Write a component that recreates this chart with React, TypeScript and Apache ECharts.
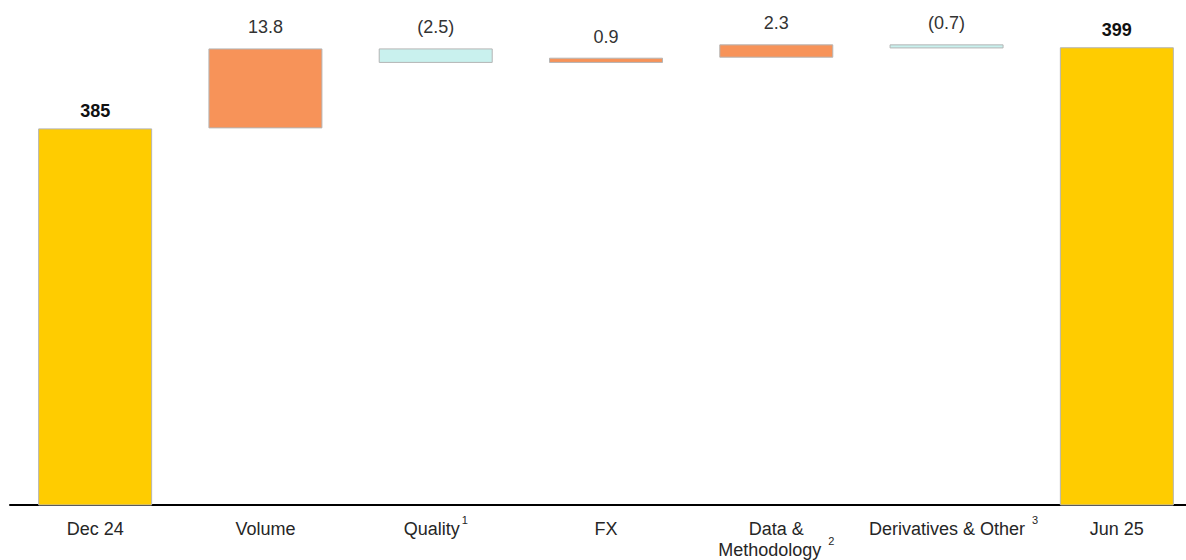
import React, { useEffect, useRef } from "react";
import * as echarts from "echarts";

const categories = ["Dec 24", "Volume", "Quality", "FX", "Data &\nMethodology", "Derivatives & Other", "Jun 25"];
const footnotes = ["", "", "1", "", "2", "3", ""];
const kinds = ["total", "delta", "delta", "delta", "delta", "delta", "total"];
const values = [385, 13.8, -2.5, 0.9, 2.3, -0.7, 399];
const valueLabels = ["385", "13.8", "(2.5)", "0.9", "2.3", "(0.7)", "399"];

const FONT = "'Liberation Sans', Arial, sans-serif";
const GOLD = "#FFCC00";
const UP = "#F79359";
const DOWN = "#C9F1EE";

export default function App() {
  const ref = useRef<HTMLDivElement>(null);

  useEffect(() => {
    if (!ref.current) return;
    const chart = echarts.init(ref.current, undefined, { renderer: "svg" });

    let running = 0;
    const base: number[] = [];
    const shown: any[] = [];
    values.forEach((v, i) => {
      if (kinds[i] === "total") {
        base.push(0);
        running = v;
        shown.push({
          value: v,
          itemStyle: { color: GOLD },
          label: { distance: 8, fontWeight: "bold", color: "#111" },
        });
      } else {
        const low = Math.min(running, running + v);
        base.push(low);
        running += v;
        shown.push({
          value: Math.abs(v),
          itemStyle: { color: v >= 0 ? UP : DOWN },
          label: { distance: 12 },
        });
      }
    });

    const supBase = { fontSize: 11, lineHeight: 2, verticalAlign: "bottom", color: "#262626", fontFamily: FONT };

    chart.setOption({
      animation: false,
      grid: { left: 10, right: 0, top: 12.5, bottom: 52, containLabel: false },
      xAxis: {
        type: "category",
        data: categories,
        axisLine: { lineStyle: { color: "#000", width: 2 } },
        axisTick: { show: false },
        axisLabel: {
          interval: 0,
          margin: 13,
          fontSize: 18,
          lineHeight: 21,
          color: "#262626",
          fontFamily: FONT,
          formatter: (val: string, idx: number) => {
            const f = footnotes[idx];
            if (!f) return val;
            if (idx === 2) return `${val}{sup|${f}}`;
            if (idx === 5) return `{shift|${val}}{supw|${f}}`;
            return `${val}{supw|${f}}`;
          },
          rich: {
            shift: { fontSize: 18, lineHeight: 21, color: "#262626", fontFamily: FONT, padding: [0, 0, 0, 14] },
            sup: { ...supBase, padding: [0, 0, 14, 2] },
            supw: { ...supBase, padding: [0, 0, 14, 7] },
          },
        },
      },
      yAxis: {
        type: "value",
        min: 320,
        max: 405,
        show: false,
        splitLine: { show: false },
      },
      series: [
        {
          type: "bar",
          stack: "wf",
          data: base,
          barWidth: 114,
          itemStyle: { color: "transparent", borderWidth: 0 },
          emphasis: { disabled: true },
          silent: true,
        },
        {
          type: "bar",
          stack: "wf",
          data: shown,
          barWidth: 114,
          itemStyle: { borderColor: "#b5b5b5", borderWidth: 1 },
          label: {
            show: true,
            position: "top",
            fontSize: 18,
            color: "#333",
            fontFamily: FONT,
            formatter: (p: any) => valueLabels[p.dataIndex],
          },
        },
      ],
    });

    return () => chart.dispose();
  }, []);

  return (
    <div style={{ position: "absolute", left: 0, top: 0, width: 1186, height: 560, overflow: "hidden", background: "#fff" }}>
      <div ref={ref} style={{ width: 1202, height: 560 }} />
    </div>
  );
}
